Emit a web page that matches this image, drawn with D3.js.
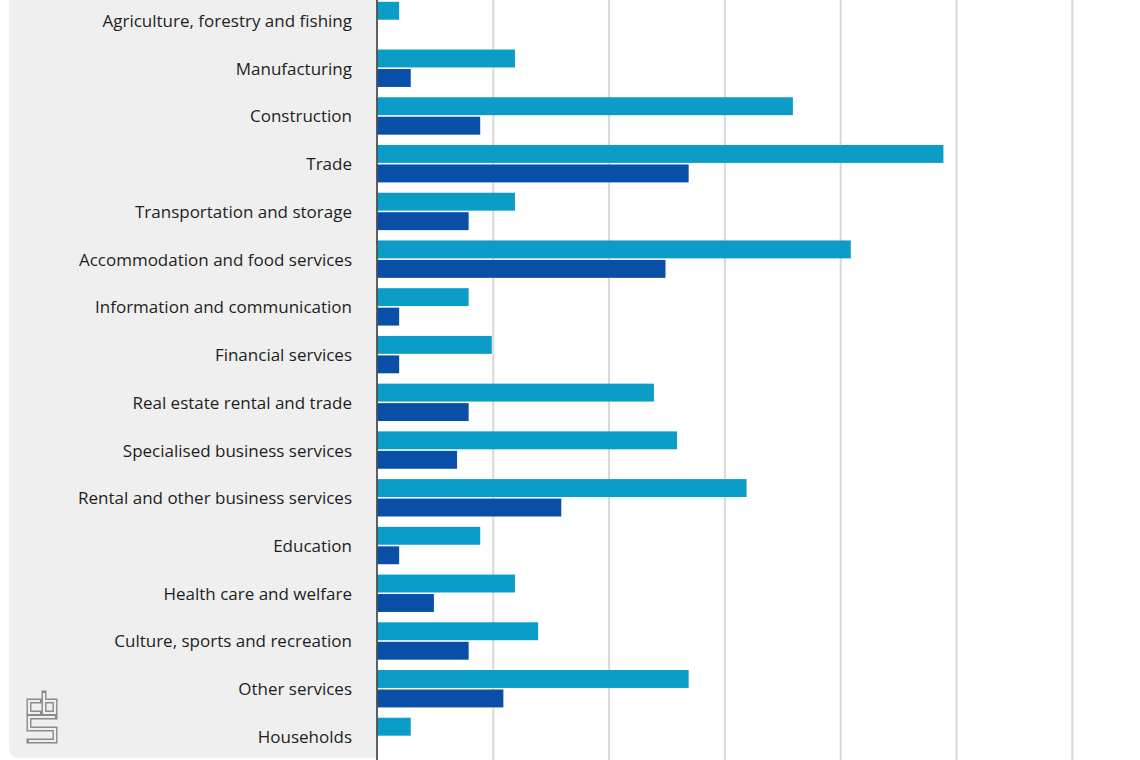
<!DOCTYPE html>
<html>
<head>
<meta charset="utf-8">
<script src="https://cdn.jsdelivr.net/npm/d3@7"></script>
<style>
  html, body { margin: 0; padding: 0; background: #ffffff; }
  svg { display: block; }
</style>
</head>
<body>
<svg id="chart" width="1140" height="760"></svg>
<script>
const categories = [
  "Agriculture, forestry and fishing",
  "Manufacturing",
  "Construction",
  "Trade",
  "Transportation and storage",
  "Accommodation and food services",
  "Information and communication",
  "Financial services",
  "Real estate rental and trade",
  "Specialised business services",
  "Rental and other business services",
  "Education",
  "Health care and welfare",
  "Culture, sports and recreation",
  "Other services",
  "Households"
];
const lightValues = [2, 12, 36, 49, 12, 41, 8, 10, 24, 26, 32, 9, 12, 14, 27, 3];
const darkValues  = [0, 3, 9, 27, 8, 25, 2, 2, 8, 7, 16, 2, 5, 8, 11, 0];
const gridTicks = [10, 20, 30, 40, 50, 60];
const seriesKeys = ["light", "dark"];
const seriesColors = { light: "#0b9cc8", dark: "#0a4fa7" };

const svg = d3.select("#chart");
const W = 1140, H = 760;
const axisX = 377.5;

// Grey label panel
svg.append("rect")
  .attr("x", 9).attr("y", -20)
  .attr("width", axisX - 9 + 4).attr("height", 778)
  .attr("rx", 9)
  .attr("fill", "#efefef");

const x = d3.scaleLinear().domain([0, 70]).range([axisX, axisX + 7 * 115.8]);
const step = 47.73;
const y = d3.scaleBand().domain(categories).range([20.5 - step / 2, 20.5 - step / 2 + step * categories.length]).padding(0);
const sub = d3.scaleBand().domain(seriesKeys)
  .range([y.bandwidth() / 2 - 18.7, y.bandwidth() / 2 + 18.7])
  .paddingInner(0.08);

// White plot area
svg.append("rect")
  .attr("x", axisX).attr("y", 0)
  .attr("width", W - axisX).attr("height", H)
  .attr("fill", "#ffffff");

// Gridlines
svg.append("g").selectAll("line").data(gridTicks).join("line")
  .attr("x1", d => x(d)).attr("x2", d => x(d))
  .attr("y1", 0).attr("y2", H)
  .attr("stroke", "#d8d8d8").attr("stroke-width", 2);

// Bars
const rows = categories.map((c, i) => ({ cat: c, light: lightValues[i], dark: darkValues[i] }));
const g = svg.append("g");
rows.forEach(r => {
  seriesKeys.forEach(k => {
    if (r[k] <= 0) return;
    g.append("rect")
      .attr("x", x(0))
      .attr("y", y(r.cat) + sub(k))
      .attr("width", Math.max(0, x(r[k]) - x(0) - 1.5))
      .attr("height", sub.bandwidth())
      .attr("fill", seriesColors[k]);
  });
});

// Axis line
svg.append("line")
  .attr("x1", axisX - 0.5).attr("x2", axisX - 0.5)
  .attr("y1", 0).attr("y2", H)
  .attr("stroke", "#3a3a3a").attr("stroke-width", 1.6);

// Category labels
svg.append("g").selectAll("text").data(categories).join("text")
  .attr("x", 352)
  .attr("y", d => y(d) + y.bandwidth() / 2)
  .attr("text-anchor", "end")
  .attr("dominant-baseline", "central")
  .attr("font-family", "'Open Sans', sans-serif")
  .attr("font-size", 17)
  .attr("fill", "#1e1e1e")
  .text(d => d);

// CBS logo (outlined strokes)
const logo = svg.append("g");
const logoPaths = [
  "M40,701 H29 V713 H40",
  "M44,693 V713 H55 V701 H44",
  "M55,717 H29 V729 H55 V741 H29"
];
logoPaths.forEach(p => {
  logo.append("path").attr("d", p).attr("fill", "none")
    .attr("stroke", "#8a8a8a").attr("stroke-width", 5).attr("stroke-linecap", "square").attr("stroke-linejoin", "miter");
});
logoPaths.forEach(p => {
  logo.append("path").attr("d", p).attr("fill", "none")
    .attr("stroke", "#efefef").attr("stroke-width", 2.2).attr("stroke-linecap", "butt").attr("stroke-linejoin", "miter");
});
</script>
</body>
</html>
